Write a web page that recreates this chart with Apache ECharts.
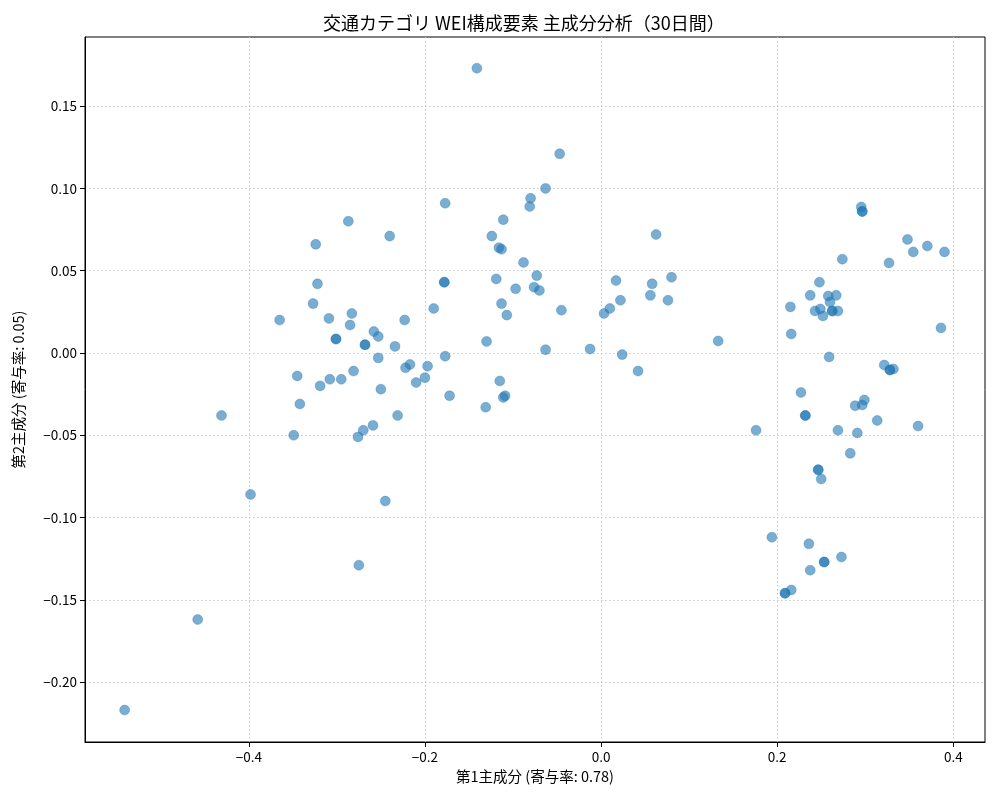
<!DOCTYPE html>
<html><head><meta charset="utf-8">
<script src="https://cdn.jsdelivr.net/npm/echarts@6/dist/echarts.min.js"></script>
<style>html,body{margin:0;padding:0;background:#fff}#c{width:1000px;height:800px}</style>
</head><body><div id="c"></div>
<script>
const titleText = '交通カテゴリ WEI構成要素 主成分分析（30日間）';
const xName = '第1主成分 (寄与率: 0.78)';
const yName = '第2主成分 (寄与率: 0.05)';
const xTicks = [-0.4, -0.2, 0.0, 0.2, 0.4];
const yTicks = [-0.20, -0.15, -0.10, -0.05, 0.00, 0.05, 0.10, 0.15];
const pc1 = [-0.541,-0.458,-0.431,-0.398,-0.365,-0.349,-0.345,-0.342,-0.324,-0.322,-0.327,-0.319,-0.309,-0.308,-0.301,-0.301,-0.295,-0.287,-0.285,-0.283,-0.281,-0.276,-0.275,-0.270,-0.268,-0.268,-0.259,-0.258,-0.253,-0.253,-0.250,-0.245,-0.240,-0.234,-0.231,-0.223,-0.222,-0.217,-0.210,-0.200,-0.197,-0.190,-0.178,-0.178,-0.177,-0.177,-0.172,-0.141,-0.131,-0.130,-0.124,-0.119,-0.116,-0.113,-0.115,-0.113,-0.111,-0.111,-0.109,-0.107,-0.097,-0.088,-0.081,-0.080,-0.076,-0.073,-0.070,-0.063,-0.063,-0.047,-0.045,-0.0125,0.0034,0.010,0.017,0.022,0.024,0.042,0.056,0.058,0.0625,0.076,0.080,0.133,0.176,0.194,0.209,0.209,0.216,0.215,0.216,0.227,0.232,0.232,0.236,0.2375,0.2375,0.243,0.2466,0.2466,0.248,0.249,0.250,0.252,0.2534,0.2534,0.258,0.260,0.259,0.2625,0.2625,0.267,0.269,0.269,0.273,0.274,0.283,0.2886,0.291,0.2955,0.2966,0.2966,0.2966,0.299,0.3136,0.3216,0.327,0.328,0.328,0.332,0.348,0.3545,0.360,0.3705,0.386,0.390];
const pc2 = [-0.217,-0.162,-0.038,-0.086,0.020,-0.050,-0.014,-0.031,0.066,0.042,0.030,-0.020,0.021,-0.016,0.0085,0.0085,-0.016,0.080,0.017,0.024,-0.011,-0.051,-0.129,-0.047,0.005,0.005,-0.044,0.013,0.010,-0.003,-0.022,-0.090,0.071,0.004,-0.038,0.020,-0.009,-0.007,-0.018,-0.015,-0.008,0.027,0.043,0.043,0.091,-0.002,-0.026,0.173,-0.033,0.007,0.071,0.045,0.064,0.063,-0.017,0.030,0.081,-0.027,-0.026,0.023,0.039,0.055,0.089,0.094,0.040,0.047,0.038,0.100,0.002,0.121,0.026,0.0024,0.024,0.027,0.044,0.032,-0.001,-0.011,0.035,0.042,0.072,0.032,0.046,0.0073,-0.047,-0.112,-0.146,-0.146,-0.144,0.028,0.0115,-0.024,-0.038,-0.038,-0.116,0.035,-0.132,0.0255,-0.071,-0.071,0.043,0.0267,-0.0766,0.0225,-0.127,-0.127,0.0346,0.031,-0.0024,0.0255,0.0255,0.035,0.0255,-0.047,-0.124,0.057,-0.061,-0.032,-0.0486,0.0887,0.086,0.086,-0.0316,-0.0286,-0.041,-0.0073,0.0547,-0.0103,-0.0103,-0.0097,0.069,0.0614,-0.0444,0.065,0.0152,0.0614];

const font = '"Noto Sans CJK JP", "DejaVu Sans", sans-serif';
const minus = s => s.replace('-', '\u2212');
const chart = echarts.init(document.getElementById('c'), null, {renderer: 'canvas'});
chart.setOption({
  backgroundColor: '#fff',
  animation: false,
  title: {text: titleText, left: 318, top: 9, textStyle: {fontFamily: font, fontSize: 18, fontWeight: 'normal', color: '#000'}},
  grid: {left: 85, right: 15, top: 37, bottom: 58, show: true, borderColor: '#000', borderWidth: 1, backgroundColor: 'transparent'},
  xAxis: {
    type: 'value', min: -0.586, max: 0.436,
    name: xName, nameLocation: 'middle', nameGap: 27,
    nameTextStyle: {fontFamily: font, fontSize: 14.5, color: '#000'},
    axisLine: {show: true, onZero: false, lineStyle: {color: '#000'}},
    axisTick: {show: true, length: 5, lineStyle: {color: '#000'}, customValues: xTicks},
    axisLabel: {customValues: xTicks, fontFamily: font, fontSize: 13.5, color: '#000', margin: 8, formatter: v => minus(v.toFixed(1))},
    splitLine: {show: true, lineStyle: {color: '#c8c8c8', type: [1.5, 2.5], width: 1}}
  },
  yAxis: {
    type: 'value', min: -0.2364, max: 0.192,
    name: yName, nameLocation: 'middle', nameGap: 59, nameRotate: 90,
    nameTextStyle: {fontFamily: font, fontSize: 14.5, color: '#000'},
    axisLine: {show: true, onZero: false, lineStyle: {color: '#000'}},
    axisTick: {show: true, length: 5, lineStyle: {color: '#000'}, customValues: yTicks},
    axisLabel: {customValues: yTicks, fontFamily: font, fontSize: 13.5, color: '#000', margin: 8, formatter: v => minus(v.toFixed(2))},
    splitLine: {show: true, lineStyle: {color: '#c8c8c8', type: [1.5, 2.5], width: 1}}
  },
  series: [{
    type: 'scatter',
    symbolSize: 10,
    data: pc1.map((x, i) => [x, pc2[i]]),
    itemStyle: {color: 'rgba(31,119,180,0.75)', borderColor: 'rgba(31,119,180,0.75)', borderWidth: 0.5}
  }]
});
</script></body></html>
